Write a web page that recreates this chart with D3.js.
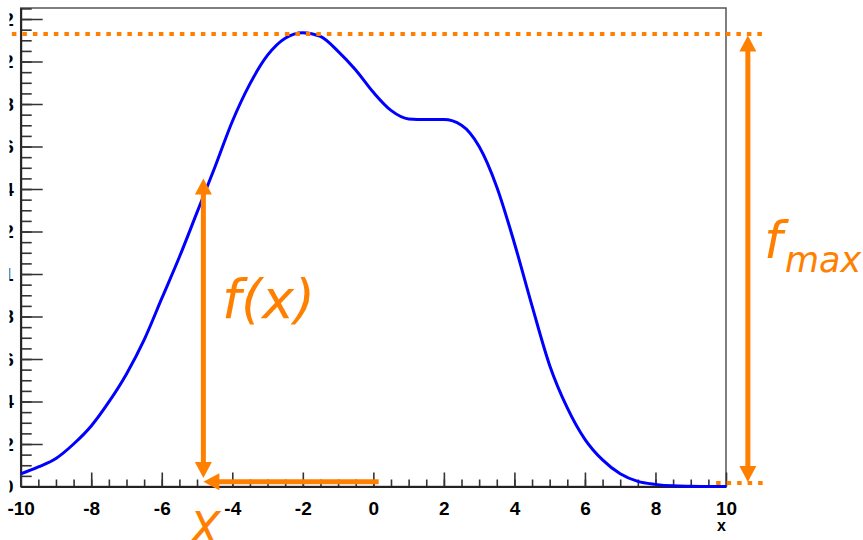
<!DOCTYPE html>
<html lang="en">
<head>
<meta charset="UTF-8"/>
<title>f(x) and fmax</title>
<script src="https://d3js.org/d3.v7.min.js"></script>
<style>
  body { margin: 0; background: #fff; }
  .tick text { font-family: "Liberation Sans", Arial, sans-serif; font-weight: bold; font-size: 19px; fill: #000; }
  .note { font-family: "DejaVu Sans", Verdana, sans-serif; font-style: oblique; fill: #ff8000; }
</style>
</head>
<body>
<svg id="chart" width="863" height="540"></svg>
<script>
// curve
var xData = [-10, -9.5, -9, -8.5, -8, -7.5, -7, -6.5, -6, -5.5, -5, -4.5, -4, -3.5, -3, -2.5, -2, -1.5, -1, -0.5,
             0, 0.5, 1, 1.5, 2, 2.5, 3, 3.5, 4, 4.5, 5, 5.5, 6, 6.5, 7, 7.5, 8, 8.5, 9, 9.5, 10];
var fData = [0.0059, 0.0092, 0.0132, 0.0200, 0.0285, 0.0398, 0.0530, 0.0690, 0.0885, 0.1080,
             0.1290, 0.1500, 0.1718, 0.1895, 0.2030, 0.2110, 0.2136, 0.2118, 0.2048, 0.1960,
             0.1855, 0.1770, 0.1730, 0.1727, 0.1727, 0.1700, 0.1600, 0.1410, 0.1145, 0.0850,
             0.0570, 0.0370, 0.0222, 0.0125, 0.0060, 0.0024, 0.0010, 0.0003, 0.0001, 0.0000, 0.0000];

var xTicks = [-10, -8, -6, -4, -2, 0, 2, 4, 6, 8, 10];
var xTickLabels = ["-10", "-8", "-6", "-4", "-2", "0", "2", "4", "6", "8", "10"];
var yTicks = [0, 0.02, 0.04, 0.06, 0.08, 0.1, 0.12, 0.14, 0.16, 0.18, 0.2, 0.22];
var yTickLabels = ["0", "0.02", "0.04", "0.06", "0.08", "0.1", "0.12", "0.14", "0.16", "0.18", "0.2", "0.22"];

// annotation anchors (data units)
var fmax = 0.213;
var xSample = -4.82;
var fSample = 0.145;

var orange = "#ff8000";

var svg = d3.select("#chart");

var x = d3.scaleLinear().domain([-10, 10]).range([20.7, 726]);
var y = d3.scaleLinear().domain([0, 0.2252]).range([486.5, 8]);

// frame
svg.append("rect")
  .attr("x", x(-10)).attr("y", y(0.2252))
  .attr("width", x(10) - x(-10)).attr("height", y(0) - y(0.2252))
  .attr("fill", "none").attr("stroke", "#555").attr("stroke-width", 1.5);

// y axis (labels are mostly hidden, only their last digit peeks out)
svg.append("clipPath").attr("id", "ylab")
  .append("rect").attr("x", 9.5 - x(-10)).attr("y", 0).attr("width", 860).attr("height", 540);

var yMinor = d3.range(0.005, 0.2252, 0.005);
svg.append("g")
  .attr("transform", "translate(" + x(-10) + ",0)")
  .call(d3.axisLeft(y).tickValues(yMinor).tickFormat("").tickSize(-11).tickSizeOuter(0))
  .call(g => g.select(".domain").remove());

var gy = svg.append("g")
  .attr("transform", "translate(" + x(-10) + ",0)")
  .attr("clip-path", "url(#ylab)")
  .call(d3.axisLeft(y).tickValues(yTicks).tickFormat((d, i) => yTickLabels[i])
        .tickSize(-22).tickSizeOuter(0).tickPadding(7));

// x axis
var xMinor = d3.range(-9.5, 10, 0.5);
svg.append("g")
  .attr("transform", "translate(0," + y(0) + ")")
  .call(d3.axisBottom(x).tickValues(xMinor).tickFormat("").tickSize(-7).tickSizeOuter(0))
  .call(g => g.select(".domain").remove());

var gx = svg.append("g")
  .attr("transform", "translate(0," + y(0) + ")")
  .call(d3.axisBottom(x).tickValues(xTicks).tickFormat((d, i) => xTickLabels[i])
        .tickSize(-14).tickSizeOuter(0).tickPadding(15));

svg.selectAll(".tick line").attr("stroke", "#333").attr("stroke-width", 1.6);
svg.selectAll(".domain").attr("stroke", "#222").attr("stroke-width", 2);

svg.append("text")
  .attr("x", 726).attr("y", 531)
  .attr("text-anchor", "end")
  .style("font-family", "Liberation Sans, Arial, sans-serif")
  .style("font-weight", "bold").style("font-size", "16px")
  .text("x");

// the function
var line = d3.line()
  .x(function(d, i) { return x(xData[i]); })
  .y(function(d) { return y(d); })
  .curve(d3.curveMonotoneX);

svg.append("path")
  .datum(fData)
  .attr("d", line)
  .attr("fill", "none")
  .attr("stroke", "#0000ff")
  .attr("stroke-width", 3);

// dotted guides
svg.append("line")
  .attr("x1", x(-10.25)).attr("x2", x(11.1))
  .attr("y1", y(fmax)).attr("y2", y(fmax))
  .attr("stroke", orange).attr("stroke-width", 4).attr("stroke-dasharray", "4.5,6");

svg.append("line")
  .attr("x1", x(9.72)).attr("x2", x(11.1))
  .attr("y1", y(0.0016)).attr("y2", y(0.0016))
  .attr("stroke", orange).attr("stroke-width", 4).attr("stroke-dasharray", "4.5,6");

// arrows
function arrow(x1, y1, x2, y2, headStart, headEnd) {
  var len = 16, half = 8.5;
  var dx = x2 - x1, dy = y2 - y1, L = Math.sqrt(dx * dx + dy * dy);
  var ux = dx / L, uy = dy / L, nx = -uy, ny = ux;
  var sx = x1, sy = y1, ex = x2, ey = y2;
  if (headStart) { sx = x1 + ux * (len - 1); sy = y1 + uy * (len - 1); }
  if (headEnd) { ex = x2 - ux * (len - 1); ey = y2 - uy * (len - 1); }
  svg.append("line")
    .attr("x1", sx).attr("y1", sy).attr("x2", ex).attr("y2", ey)
    .attr("stroke", orange).attr("stroke-width", 5);
  function head(tx, ty, vx, vy) {
    var bx = tx - vx * len, by = ty - vy * len;
    svg.append("polygon")
      .attr("points", [[tx, ty], [bx + nx * half, by + ny * half], [bx - nx * half, by - ny * half]].join(" "))
      .attr("fill", orange);
  }
  if (headEnd) head(x2, y2, ux, uy);
  if (headStart) head(x1, y1, -ux, -uy);
}

arrow(x(xSample), y(0.004), x(xSample), y(fSample), true, true);
arrow(x(0.15), y(0.0022), x(xSample), y(0.0022), false, true);
arrow(x(10.62), y(0.0021), x(10.62), y(fmax - 0.0008), true, true);

// labels
svg.append("text").attr("class", "note")
  .attr("x", 222).attr("y", 318).style("font-size", "54px").text("f(x)");
svg.append("text").attr("class", "note")
  .attr("x", 764).attr("y", 258).style("font-size", "52px").text("f");
svg.append("text").attr("class", "note")
  .attr("x", 785).attr("y", 272).style("font-size", "35px").text("max");
svg.append("text").attr("class", "note")
  .attr("x", 189).attr("y", 545).style("font-size", "46px").text("X");
</script>
</body>
</html>
